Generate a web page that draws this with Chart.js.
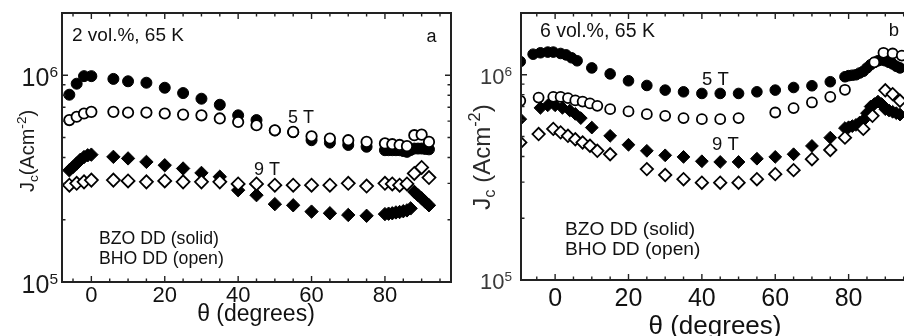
<!DOCTYPE html>
<html><head><meta charset="utf-8">
<script src="https://cdn.jsdelivr.net/npm/chart.js@4.4.1/dist/chart.umd.min.js"></script>
<style>
html,body{margin:0;padding:0;width:904px;height:336px;overflow:hidden;background:#fff;}
#ca{position:absolute;left:0;top:0;}
#cb{position:absolute;left:450px;top:0;}
</style></head><body>
<canvas id="ca" width="460" height="336"></canvas>
<canvas id="cb" width="482" height="336"></canvas>
<script>
// ---------- DATA ----------
const xTickValues = [0, 20, 40, 60, 80];
const yTickValues = [1e5, 1e6];
const yTickExps = ['5', '6'];

// Panel a : 2 vol.%, 65 K
const thA_bzo5 = [-6,-4,-2,0,6,10,15,20,25,30,35,40,45,50,55,60,65,70,75,80,81,82,83,84,85,86,87,88,89,90,91,92];
const jcA_bzo5 = [8.05e5,9.1e5,9.9e5,9.9e5,9.6e5,9.35e5,9.2e5,8.7e5,8.2e5,7.7e5,7.2e5,6.4e5,6.07e5,5.4e5,5.3e5,4.85e5,4.72e5,4.6e5,4.51e5,4.34e5,4.34e5,4.34e5,4.34e5,4.34e5,4.3e5,4.26e5,4.35e5,4.42e5,4.42e5,4.42e5,4.4e5,4.38e5];
const thA_bho5 = [-6,-4,-2,0,6,10,15,20,25,30,35,40,45,50,55,60,65,70,75,80,82,84,86,88,90,92];
const jcA_bho5 = [6.07e5,6.3e5,6.53e5,6.65e5,6.65e5,6.6e5,6.6e5,6.53e5,6.45e5,6.4e5,6.18e5,5.94e5,5.73e5,5.42e5,5.32e5,5.07e5,4.94e5,4.85e5,4.76e5,4.68e5,4.64e5,4.6e5,4.54e5,5.13e5,5.16e5,4.76e5];
const thA_bzo9 = [-6,-5,-4,-3,-2,-1,0,6,10,15,20,25,30,35,40,45,50,55,60,65,70,75,80,81,82,83,84,85,86,87,88,89,90,91,92];
const jcA_bzo9 = [3.47e5,3.6e5,3.74e5,3.9e5,4.02e5,4.1e5,4.13e5,4.03e5,3.96e5,3.81e5,3.67e5,3.54e5,3.37e5,3.23e5,2.78e5,2.63e5,2.38e5,2.35e5,2.19e5,2.15e5,2.11e5,2.09e5,2.13e5,2.14e5,2.15e5,2.17e5,2.18e5,2.2e5,2.22e5,2.27e5,2.73e5,2.63e5,2.54e5,2.44e5,2.35e5];
const thA_bho9 = [-6,-4,-2,0,6,10,15,20,25,30,35,40,45,50,55,60,65,70,75,80,82,84,86,88,90,92];
const jcA_bho9 = [2.94e5,3.0e5,3.05e5,3.11e5,3.11e5,3.08e5,3.05e5,3.08e5,3.05e5,3.05e5,3.05e5,2.98e5,2.98e5,2.94e5,2.94e5,2.94e5,2.94e5,3.0e5,2.91e5,3.0e5,2.98e5,2.94e5,2.98e5,3.35e5,3.58e5,3.2e5];

// Panel b : 6 vol.%, 65 K
const thB_bzo5 = [-9.5,-6,-4,-2,-0.5,1.5,3,4.5,6,10,15,20,25,30,35,40,45,50,55,60,65,70,75,79,80,81,82,83,84,85,86,87,88,89,90,91,92,93,94];
const jcB_bzo5 = [1.16e6,1.26e6,1.28e6,1.29e6,1.29e6,1.27e6,1.25e6,1.21e6,1.17e6,1.08e6,1.01e6,9.35e5,8.87e5,8.42e5,8.26e5,8.11e5,8.11e5,8.11e5,8.26e5,8.42e5,8.67e5,8.84e5,9.25e5,9.78e5,9.9e5,9.95e5,1.0e6,1.02e6,1.04e6,1.08e6,1.12e6,1.15e6,1.17e6,1.18e6,1.17e6,1.15e6,1.13e6,1.1e6,1.08e6];
const thB_bho5 = [-9.5,-4.5,-0.5,1.5,3.5,5.5,7.5,9.5,11.5,15,20,25,30,35,40,45,50,60,65,70,75,79,87,89.5,92,94.5];
const jcB_bho5 = [7.47e5,7.74e5,7.81e5,7.8e5,7.7e5,7.5e5,7.4e5,7.25e5,7.06e5,6.8e5,6.63e5,6.43e5,6.31e5,6.15e5,6.08e5,6.08e5,6.15e5,6.55e5,6.88e5,7.33e5,7.81e5,8.45e5,1.15e6,1.28e6,1.27e6,1.24e6];
const thB_bzo9 = [-9.5,-4,-2,0,2,4,5.5,7,10,15,20,25,30,35,40,45,50,55,60,65,70,75,79,80,81,82,83,84,85,86,87,88,89,90,91,92,93,94];
const jcB_bzo9 = [6.08e5,6.9e5,7.1e5,7.1e5,6.9e5,6.7e5,6.45e5,6.15e5,5.53e5,5.04e5,4.56e5,4.26e5,4.05e5,3.98e5,3.79e5,3.76e5,3.76e5,3.9e5,3.98e5,4.1e5,4.5e5,4.94e5,5.5e5,5.55e5,5.62e5,5.7e5,5.85e5,6.0e5,6.5e5,7.0e5,7.2e5,7.4e5,7.2e5,6.8e5,6.7e5,6.6e5,6.5e5,6.4e5];
const thB_bho9 = [-9.5,-4.5,-0.5,1.5,3.5,5.5,7.5,9.5,11.5,15,25,30,35,40,45,50,55,60,65,70,75,79,84,86.5,90,92,94];
const jcB_bho9 = [4.68e5,5.14e5,5.45e5,5.24e5,5.04e5,4.85e5,4.68e5,4.51e5,4.26e5,4.1e5,3.47e5,3.25e5,3.1e5,2.98e5,2.98e5,2.98e5,3.1e5,3.28e5,3.43e5,3.88e5,4.3e5,4.94e5,5.45e5,6.31e5,8.4e5,8.05e5,7.47e5];

// ---------- HELPERS ----------
const FAM = '"Liberation Sans", Arial, Helvetica, sans-serif';
function pts(xs, ys) { return xs.map((x, i) => ({ x: x, y: ys[i] })); }

function drawRuns(ctx, runs, x, y, align) {
  let w = 0;
  runs.forEach(r => { ctx.font = r.size + 'px ' + FAM; r.w = ctx.measureText(r.t).width; w += r.w; });
  let cx = align === 'right' ? x - w : (align === 'center' ? x - w / 2 : x);
  ctx.textAlign = 'left';
  ctx.textBaseline = 'alphabetic';
  runs.forEach(r => { ctx.font = r.size + 'px ' + FAM; ctx.fillText(r.t, cx, y + (r.dy || 0)); cx += r.w; });
}

function makeDatasets(b5x, b5y, o5x, o5y, b9x, b9y, o9x, o9y, rc, rd) {
  return [
    { label: 'BHO 5 T', data: pts(o5x, o5y), pointStyle: 'circle', pointRadius: rc, backgroundColor: '#fff', borderColor: '#000', borderWidth: 1.8 },
    { label: 'BHO 9 T', data: pts(o9x, o9y), pointStyle: 'rectRot', pointRadius: rd, backgroundColor: '#fff', borderColor: '#000', borderWidth: 1.8 },
    { label: 'BZO 5 T', data: pts(b5x, b5y), pointStyle: 'circle', pointRadius: rc + 0.3, backgroundColor: '#000', borderColor: '#000', borderWidth: 1 },
    { label: 'BZO 9 T', data: pts(b9x, b9y), pointStyle: 'rectRot', pointRadius: rd + 0.2, backgroundColor: '#000', borderColor: '#000', borderWidth: 1 }
  ];
}

const framePlugin = {
  id: 'frameTicks',
  afterDatasetsDraw(chart, args, o) {
    const { ctx, chartArea: a, scales: { x, y } } = chart;
    ctx.save();
    ctx.strokeStyle = o.color;
    ctx.lineWidth = o.lw;
    ctx.strokeRect(a.left, a.top, a.right - a.left, a.bottom - a.top);
    ctx.lineWidth = 1.4;
    ctx.beginPath();
    for (let v = Math.ceil(x.min / 5) * 5; v <= x.max; v += 5) {
      const px = x.getPixelForValue(v);
      const L = (v % 20 === 0) ? o.major : o.minor;
      ctx.moveTo(px, a.bottom); ctx.lineTo(px, a.bottom - L);
      ctx.moveTo(px, a.top); ctx.lineTo(px, a.top + L);
    }
    for (let d = 1e5; d <= 1e6; d *= 10) {
      for (let m = 1; m <= 9; m++) {
        const v = m * d;
        if (v < y.min || v > y.max) continue;
        const py = y.getPixelForValue(v);
        const L = (m === 1) ? o.major : o.minor;
        ctx.moveTo(a.left, py); ctx.lineTo(a.left + L, py);
        ctx.moveTo(a.right, py); ctx.lineTo(a.right - L, py);
      }
    }
    ctx.stroke();
    ctx.restore();
  }
};

const textPlugin = {
  id: 'texts',
  afterDraw(chart, args, o) {
    const { ctx, chartArea: a, scales: { y } } = chart;
    ctx.save();
    // y tick labels with superscripts
    ctx.fillStyle = o.yLabColor;
    yTickValues.forEach((v, i) => {
      const py = y.getPixelForValue(v);
      drawRuns(ctx, [{ t: '10', size: o.yLabSize }, { t: yTickExps[i], size: o.yLabSize * 0.62, dy: -o.yLabSize * 0.36 }],
        a.left - o.yLabGap, py + o.yLabSize * 0.358 + o.yLabDy, 'right');
    });
    // y title (rotated)
    ctx.fillStyle = o.yTitleColor;
    ctx.save();
    ctx.translate(o.yTitleX, o.yTitleY);
    ctx.rotate(-Math.PI / 2);
    const s = o.yTitleSize;
    drawRuns(ctx, [
      { t: 'J', size: s },
      { t: 'c', size: s * 0.68, dy: s * 0.22 },
      { t: o.yTitleSep + '(Acm', size: s },
      { t: '-2', size: s * 0.68, dy: -s * 0.42 },
      { t: ')', size: s }
    ], 0, 0, 'center');
    ctx.restore();
    // x title
    ctx.fillStyle = '#111';
    drawRuns(ctx, [{ t: 'θ (degrees)', size: o.xTitleSize }], o.xTitleX, o.xTitleY, 'center');
    // annotations
    o.notes.forEach(n => {
      ctx.fillStyle = '#111';
      drawRuns(ctx, [{ t: n.t, size: n.s }], n.x, n.y + n.s * 0.358, n.align || 'left');
    });
    ctx.restore();
  }
};

function makeChart(canvas, datasets, P) {
  return new Chart(canvas, {
    type: 'scatter',
    data: { datasets: datasets },
    options: {
      responsive: false,
      animation: false,
      devicePixelRatio: 1,
      layout: { padding: { left: 0, top: P.top, right: P.right, bottom: 0 } },
      plugins: {
        legend: { display: false },
        tooltip: { enabled: false },
        frameTicks: P.frame,
        texts: P.texts
      },
      scales: {
        x: {
          type: 'linear', min: P.xMin, max: P.xMax,
          grid: { display: false }, border: { display: false },
          afterBuildTicks: s => { s.ticks = xTickValues.map(v => ({ value: v })); },
          ticks: { color: '#111', font: { family: FAM, size: P.xLabSize }, padding: P.xLabPad, maxRotation: 0, autoSkip: false },
          afterFit: s => { s.height = P.xH; }
        },
        y: {
          type: 'logarithmic', min: 1e5, max: 2e6,
          grid: { display: false }, border: { display: false },
          afterBuildTicks: s => { s.ticks = yTickValues.map(v => ({ value: v })); },
          ticks: { callback: () => '' },
          afterFit: s => { s.width = P.yW; }
        }
      }
    },
    plugins: [framePlugin, textPlugin]
  });
}

// Panel a
makeChart(document.getElementById('ca'),
  makeDatasets(thA_bzo5, jcA_bzo5, thA_bho5, jcA_bho5, thA_bzo9, jcA_bzo9, thA_bho9, jcA_bho9, 5.2, 6.5),
  {
    xMin: -8, xMax: 98, top: 13, right: 9, xH: 54, yW: 62, xLabSize: 22, xLabPad: -7,
    frame: { color: '#222', lw: 2, major: 6, minor: 3.5 },
    texts: {
      yLabColor: '#1a1a1a', yLabSize: 25, yLabGap: 4, yLabDy: 2,
      yTitleColor: '#1a1a1a', yTitleX: 34, yTitleY: 151, yTitleSize: 20, yTitleSep: '',
      xTitleSize: 23, xTitleX: 256, xTitleY: 321,
      notes: [
        { t: '2 vol.%, 65 K', s: 19, x: 72, y: 34.5 },
        { t: 'a', s: 18, x: 431.5, y: 36, align: 'center' },
        { t: '5 T', s: 18, x: 288, y: 117 },
        { t: '9 T', s: 18, x: 254, y: 169 },
        { t: 'BZO DD (solid)', s: 17.7, x: 99, y: 238 },
        { t: 'BHO DD (open)', s: 17.7, x: 99, y: 258 }
      ]
    }
  });

// Panel b
makeChart(document.getElementById('cb'),
  makeDatasets(thB_bzo5, jcB_bzo5, thB_bho5, jcB_bho5, thB_bzo9, jcB_bzo9, thB_bho9, jcB_bho9, 5.0, 6.2),
  {
    xMin: -9.3, xMax: 100, top: 13, right: 10, xH: 56, yW: 71, xLabSize: 25, xLabPad: -3.5,
    frame: { color: '#222', lw: 2, major: 6, minor: 3.5 },
    texts: {
      yLabColor: '#3a3a3a', yLabSize: 22, yLabGap: 9, yLabDy: 1,
      yTitleColor: '#2a2a2a', yTitleX: 40, yTitleY: 157, yTitleSize: 24, yTitleSep: ' ',
      xTitleSize: 26, xTitleX: 265, xTitleY: 334,
      notes: [
        { t: '6 vol.%, 65 K', s: 19.5, x: 90, y: 30 },
        { t: 'b', s: 18.5, x: 444, y: 29, align: 'center' },
        { t: '5 T', s: 18.5, x: 252, y: 78 },
        { t: '9 T', s: 18.5, x: 262, y: 143 },
        { t: 'BZO DD (solid)', s: 19.2, x: 115, y: 228 },
        { t: 'BHO DD (open)', s: 19.2, x: 115, y: 248 }
      ]
    }
  });
</script>
</body></html>
